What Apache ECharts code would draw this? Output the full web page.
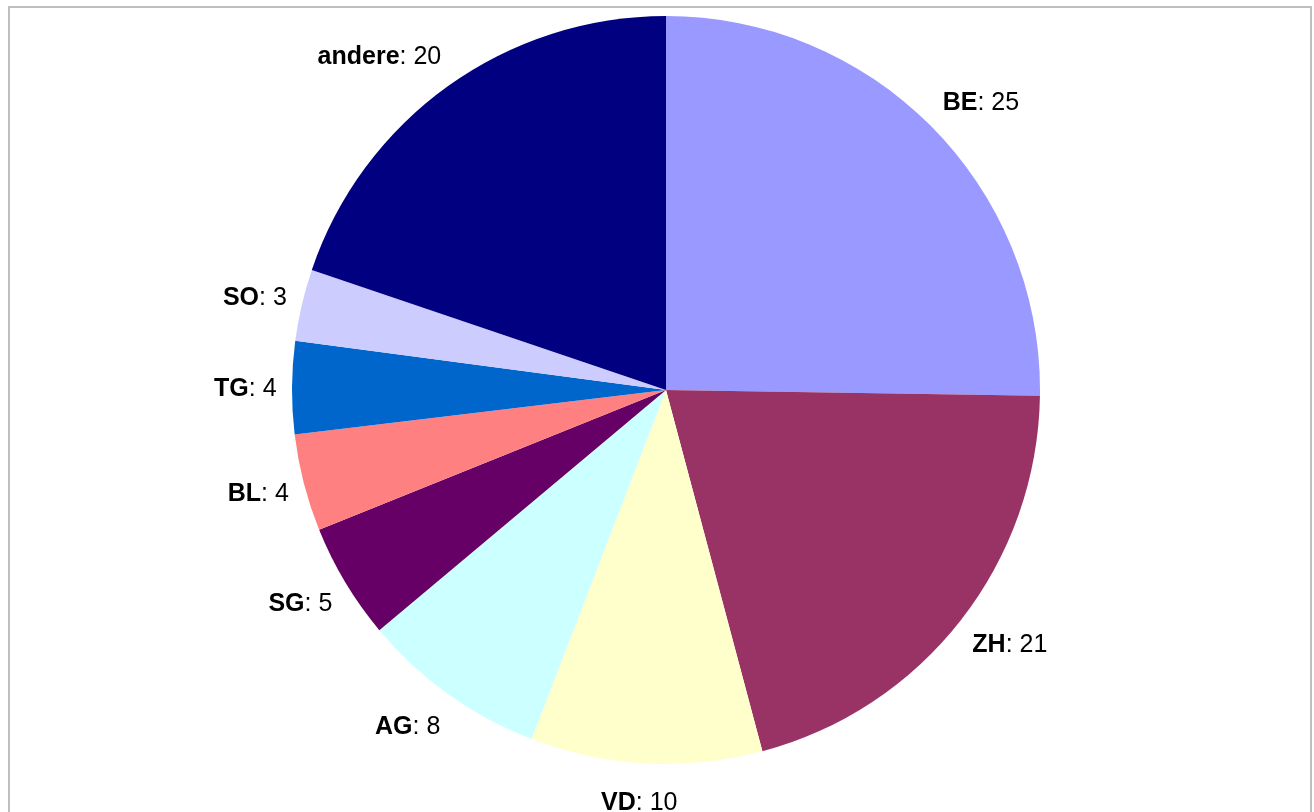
<!DOCTYPE html>
<html>
<head>
<meta charset="utf-8">
<style>
html,body{margin:0;padding:0;background:#fff;}
#chart{width:1314px;height:812px;}
</style>
<script src="https://cdn.jsdelivr.net/npm/echarts@6/dist/echarts.min.js"></script>
</head>
<body>
<div id="chart"></div>
<script>
const categories = ['BE', 'ZH', 'VD', 'AG', 'SG', 'BL', 'TG', 'SO', 'andere'];
const values = [25.25, 20.6, 10.0, 8.05, 5.0, 4.2, 4.0, 3.1, 19.8];
const colors = ['#9999FF', '#993366', '#FFFFCC', '#CCFFFF', '#660066', '#FF8080', '#0066CC', '#CCCCFF', '#000080'];

const CX = 666, CY = 390, R = 374, GAP_X = 17, GAP_Y = 25, SHIFT_Y = 2;
const total = values.reduce((a, b) => a + b, 0);
const midAngles = [];
{
  let cum = 0;
  values.forEach(v => { midAngles.push(2 * Math.PI * (cum + v / 2) / total); cum += v; });
}

const chart = echarts.init(document.getElementById('chart'));
chart.setOption({
  animation: false,
  backgroundColor: '#ffffff',
  graphic: [{
    type: 'rect',
    shape: { x: 9, y: 7, width: 1302, height: 900 },
    style: { fill: 'none', stroke: '#bfbfbf', lineWidth: 2 },
    silent: true
  }],
  series: [{
    type: 'pie',
    center: [CX, CY],
    radius: R,
    startAngle: 90,
    clockwise: true,
    avoidLabelOverlap: false,
    data: categories.map((c, i) => ({ name: c, value: values[i], itemStyle: { color: colors[i] } })),
    label: {
      show: true,
      position: 'outside',
      formatter: p => '{b|' + p.name + '}: ' + Math.round(p.value),
      fontFamily: 'Liberation Sans, Arial, sans-serif',
      fontSize: 25,
      color: '#000',
      rich: {
        b: { fontWeight: 'bold', fontFamily: 'Liberation Sans, Arial, sans-serif', fontSize: 25, color: '#000' }
      }
    },
    labelLine: { show: false },
    labelLayout: function (params) {
      const t = midAngles[params.dataIndex];
      const dx = Math.sin(t), dy = -Math.cos(t);
      const w = params.labelRect.width, h = params.labelRect.height;
      const fx = Math.max(-1, Math.min(1, dx * 3)) * 0.95;
      return {
        x: CX + dx * (R + GAP_X) + fx * w / 2,
        y: CY + dy * (R + GAP_Y) + dy * h / 2 + SHIFT_Y,
        align: 'center',
        verticalAlign: 'middle'
      };
    },
    emphasis: { disabled: true }
  }]
});
</script>
</body>
</html>
